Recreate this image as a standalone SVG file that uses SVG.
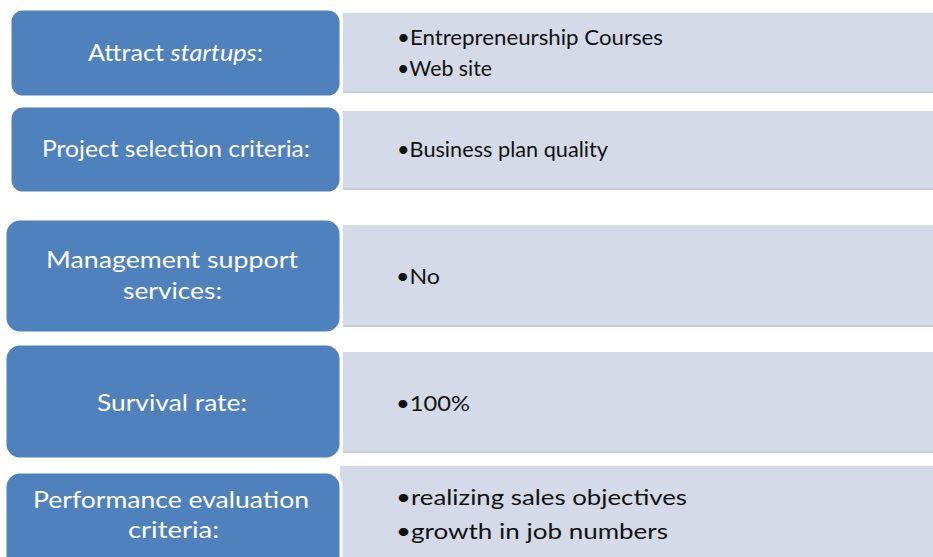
<svg xmlns="http://www.w3.org/2000/svg" width="933" height="557" viewBox="0 0 933 557">
<style>
.blue{fill:#4F81BD;stroke:#ffffff;stroke-width:3}
.light{fill:#D4DAE7}
.edge{fill:#C6CDDB}
.bt{font-family:Lato,"Open Sans","Liberation Sans",sans-serif;fill:#ffffff;font-size:24px;text-anchor:start}
.lt{font-family:Lato,"Open Sans","Liberation Sans",sans-serif;fill:#111111;font-size:22px}
</style>
<rect width="933" height="557" fill="#ffffff"/>
<g id="detail1">
<rect class="edge" x="343" y="13" width="590" height="80"/>
<rect class="light" x="343" y="13" width="590" height="78"/>
<text class="lt" x="397" y="45" textLength="266" lengthAdjust="spacingAndGlyphs">•Entrepreneurship Courses</text>
<text class="lt" x="397" y="76" textLength="95" lengthAdjust="spacingAndGlyphs">•Web site</text>
</g>
<g id="detail2">
<rect class="edge" x="343" y="111" width="590" height="79"/>
<rect class="light" x="343" y="111" width="590" height="77"/>
<text class="lt" x="397" y="157" textLength="211" lengthAdjust="spacingAndGlyphs">•Business plan quality</text>
</g>
<g id="detail3">
<rect class="edge" x="343" y="225" width="590" height="102"/>
<rect class="light" x="343" y="225" width="590" height="100"/>
<text class="lt" x="396" y="284" textLength="44" lengthAdjust="spacingAndGlyphs">•No</text>
</g>
<g id="detail4">
<rect class="edge" x="343" y="352" width="590" height="101"/>
<rect class="light" x="343" y="352" width="590" height="99"/>
<text class="lt" x="396" y="411" textLength="74" lengthAdjust="spacingAndGlyphs">•100%</text>
</g>
<g id="detail5">
<rect class="light" x="340" y="466" width="593" height="91"/>
<text class="lt" x="396" y="505" textLength="291" lengthAdjust="spacingAndGlyphs">•realizing sales objectives</text>
<text class="lt" x="396" y="539" textLength="272" lengthAdjust="spacingAndGlyphs">•growth in job numbers</text>
</g>
<g id="label1">
<rect class="blue" x="10" y="9" width="331" height="88" rx="13"/>
<text class="bt" x="88" y="61" textLength="175" lengthAdjust="spacingAndGlyphs">Attract <tspan font-style="italic">startups</tspan>:</text>
</g>
<g id="label2">
<rect class="blue" x="10" y="106" width="331" height="87" rx="13"/>
<text class="bt" x="42" y="157" textLength="268" lengthAdjust="spacingAndGlyphs">Project selection criteria:</text>
</g>
<g id="label3">
<rect class="blue" x="5" y="219" width="336" height="114" rx="15"/>
<text class="bt" x="46" y="268" textLength="252" lengthAdjust="spacingAndGlyphs">Management support</text>
<text class="bt" x="123" y="299" textLength="99" lengthAdjust="spacingAndGlyphs">services:</text>
</g>
<g id="label4">
<rect class="blue" x="5" y="344" width="336" height="115" rx="15"/>
<text class="bt" x="97" y="411" textLength="150" lengthAdjust="spacingAndGlyphs">Survival rate:</text>
</g>
<g id="label5">
<rect class="blue" x="5" y="472" width="336" height="100" rx="15"/>
<text class="bt" x="33" y="508" textLength="276" lengthAdjust="spacingAndGlyphs">Performance evaluation</text>
<text class="bt" x="128" y="538" textLength="91" lengthAdjust="spacingAndGlyphs">criteria:</text>
</g>
<g id="connectors"></g>
</svg>
